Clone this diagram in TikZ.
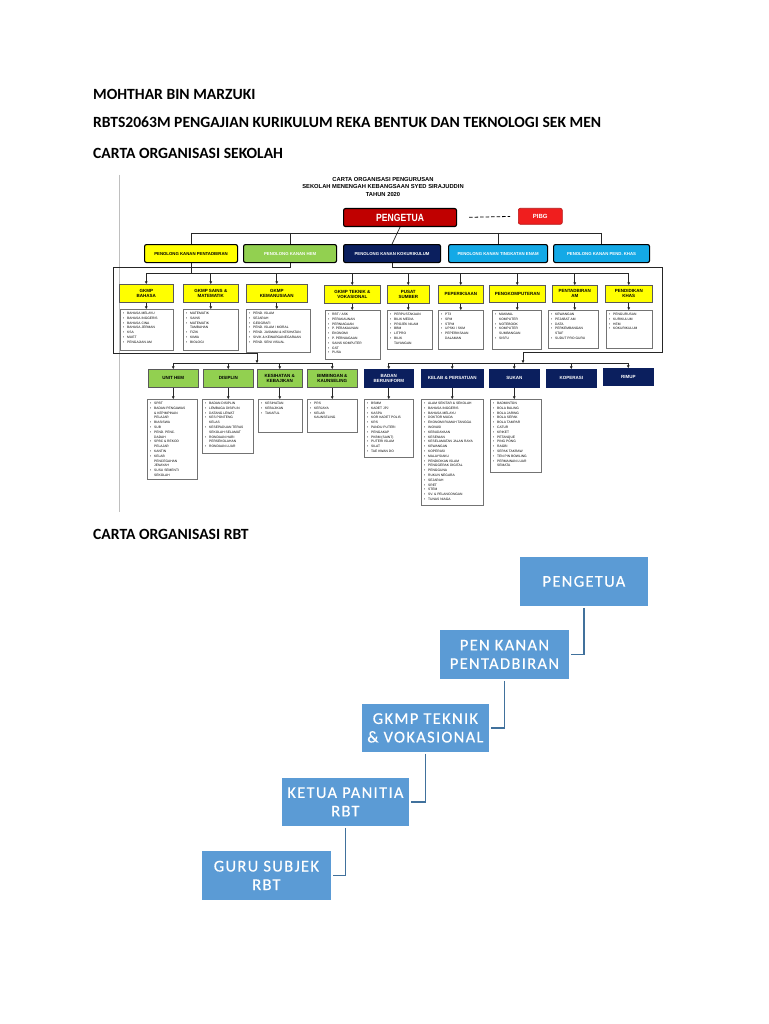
\documentclass[tikz,border=0pt]{standalone}
\usepackage{fontspec}
\setmainfont{Liberation Sans}
\newfontfamily\calf{Carlito}
\newfontfamily\calsp{Carlito}[LetterSpace=8,FakeBold=0.4]
\usetikzlibrary{arrows.meta}
\definecolor{yel}{HTML}{FFFF00}
\definecolor{grn}{HTML}{92D050}
\definecolor{nav}{HTML}{0B1F5E}
\definecolor{lbl}{HTML}{14A9E6}
\definecolor{dred}{HTML}{C00000}
\definecolor{bred}{HTML}{F01E1E}
\definecolor{sab}{HTML}{5B9BD5}
\definecolor{sal}{HTML}{41719C}
\newcommand\mkbox[7]{%
  \pgfmathsetmacro\mbw{#4-#2}\pgfmathsetmacro\mbh{#5-#3}%
  \node[#6,minimum width=\mbw pt,minimum height=\mbh pt,inner sep=0pt,anchor=north west] (#1) at (#2,#3) {#7};}
\newcommand\mklist[6]{%
  \mkbox{#1}{#2}{#3}{#4}{#5}{lbox}{}%
  \node[ltxt,anchor=north west] (#1t) at ([xshift=3pt,yshift=-3pt]#1.north west) {#6};}
\newcommand\bu{\makebox[4pt][l]{\textbullet}}
\newcommand\ind{\hspace*{4pt}}
\tikzset{
  pkbox/.style={draw=black,line width=1.1pt,rounded corners=2pt,font=\bfseries\fontsize{4.3}{5}\selectfont},
  hdr/.style={draw=black!65,line width=0.5pt,font=\bfseries\fontsize{4.5}{5.4}\selectfont,align=center},
  yhdr/.style={hdr,fill=yel},
  ghdr/.style={hdr,fill=grn},
  nhdr/.style={hdr,fill=nav,draw=nav,text=white},
  lbox/.style={draw=black!55,line width=0.6pt,fill=white},
  ltxt/.style={font=\fontsize{3.3}{4.8}\selectfont,align=left,inner sep=0pt},
  ln/.style={line width=0.7pt,draw=black!85},
  arr/.style={ln,-{Triangle[length=2.6pt,width=2.6pt]}},
  sa/.style={fill=sab,draw=white,line width=0.8pt,text=white,align=center,font=\calsp\fontsize{16.5}{18.5}\selectfont},
  saln/.style={draw=sal,line width=1.7pt},
  head/.style={font=\calf\bfseries\fontsize{15.6}{17}\selectfont,anchor=base west,inner sep=0pt},
  border/.style={draw=black!25,line width=0.5pt},
}
\begin{document}
\begin{tikzpicture}[x=1pt,y=-1pt]
\fill[white] (0,0) rectangle (768,1024);
\useasboundingbox (0,0) rectangle (768,1024);

% headings
\node[head] (t1) at (93,100) {MOHTHAR BIN MARZUKI};
\node[head] (t2) at (93,128) {RBTS2063M PENGAJIAN KURIKULUM REKA BENTUK DAN TEKNOLOGI SEK MEN};
\node[head] (t3) at (93,159) {CARTA ORGANISASI SEKOLAH};
\node[head] (t4) at (93,539) {CARTA ORGANISASI RBT};

% left border of the embedded chart
\coordinate (bdT) at (119,175);
\coordinate (bdB) at (119,512);
\draw[border] (bdT) -- (bdB);

% org chart title
\node[font=\bfseries\fontsize{5.8}{7.5}\selectfont,align=center,inner sep=0pt] (ttl) at (383,187)
  {CARTA ORGANISASI PENGURUSAN\\SEKOLAH MENENGAH KEBANGSAAN SYED SIRAJUDDIN\\TAHUN 2020};

% top
\mkbox{pg}{343}{208}{456}{226}{pkbox,fill=dred,text=white,font=\bfseries\fontsize{10.5}{11}\selectfont}{\scalebox{0.82}[1]{PENGETUA}}
\mkbox{pibg}{518}{208}{562}{224}{pkbox,fill=bred,draw=bred!75!black,line width=0.6pt,text=white,font=\bfseries\fontsize{6}{7}\selectfont}{PIBG}
\draw[line width=0.8pt,dash pattern=on 3.5pt off 2pt,shorten <=12pt,shorten >=8pt] (pg.east) -- (pibg.west);

% row 2
\mkbox{pk1}{144}{244}{237}{262}{pkbox,fill=yel}{PENOLONG KANAN PENTADBIRAN}
\mkbox{pk2}{243}{244}{336}{262}{pkbox,fill=grn,text=white}{PENOLONG KANAN HEM}
\mkbox{pk3}{343}{244}{440}{262}{pkbox,fill=nav,text=white}{PENOLONG KANAN KOKURIKULUM}
\mkbox{pk4}{448}{244}{547}{262}{pkbox,fill=lbl,text=white}{PENOLONG KANAN TINGKATAN ENAM}
\mkbox{pk5}{553}{244}{649}{262}{pkbox,fill=lbl,text=white}{PENOLONG KANAN PEND. KHAS}
\coordinate (b2) at (0,233);
\draw[ln] (pg.south) -- (pk3.north);
\draw[ln] (pk1.north |- b2) -- (pk5.north |- b2);
\foreach \p in {pk1,pk2,pk4,pk5} {\draw[ln] (\p.north |- b2) -- (\p.north);}

% row 3 headers
\mkbox{h1}{119}{284}{173}{302}{yhdr}{GKMP\\BAHASA}
\mkbox{h2}{183}{284}{238}{302}{yhdr}{GKMP SAINS \&\\MATEMATIK}
\mkbox{h3}{246}{284}{307}{302}{yhdr}{GKMP\\KEMANUSIAAN}
\mkbox{h4}{324}{285}{380}{303}{yhdr}{GKMP TEKNIK \&\\VOKASIONAL}
\mkbox{h5}{387}{285}{429}{303}{yhdr}{PUSAT\\SUMBER}
\mkbox{h6}{438}{285}{483}{303}{yhdr}{PEPERIKSAAN}
\mkbox{h7}{489}{285}{545}{302}{yhdr}{PENGKOMPUTERAN}
\mkbox{h8}{552}{285}{597}{302}{yhdr}{PENTADBIRAN\\AM}
\mkbox{h9}{605}{285}{652}{302}{yhdr}{PENDIDIKAN\\KHAS}
\coordinate (b3) at (0,273);
\draw[ln] (pk1.south) -- (pk1.south |- b3);
\draw[ln] (h1.north |- b3) -- (h9.north |- b3);
\foreach \h in {h1,h2,h3,h4,h5,h6,h7,h8,h9} {\draw[arr] (\h.north |- b3) -- (\h.north);}

% row 3 lists
\mklist{l1}{120}{309}{173}{350}{\bu BAHASA MELAYU\\\bu BAHASA INGGERIS\\\bu BAHASA CINA\\\bu BAHASA JERMAN\\\bu KSA\\\bu MUET\\\bu PENGAJIAN AM}
\mklist{l2}{183}{309}{238}{350}{\bu MATEMATIK\\\bu SAINS\\\bu MATEMATIK\\\ind TAMBAHAN\\\bu FIZIK\\\bu KIMIA\\\bu BIOLOGI}
\mklist{l3}{246}{309}{310}{352}{\bu PEND. ISLAM\\\bu SEJARAH\\\bu GEOGRAFI\\\bu PEND. ISLAM / MORAL\\\bu PEND. JASMANI \& KESIHATAN\\\bu SIVIK \& KEWARGANEGARAAN\\\bu PEND. SENI VISUAL}
\mklist{l4}{325}{310}{380}{359}{\bu RBT / ASK\\\bu PERAKAUNAN\\\bu PERNIAGAAN\\\bu P. PERAKAUNAN\\\bu EKONOMI\\\bu P. PERNIAGAAN\\\bu SAINS KOMPUTER\\\bu GST\\\bu PUSA}
\mklist{l5}{387}{310}{432}{349}{\bu PERPUSTAKAAN\\\bu BILIK MEDIA\\\bu PROJEK NILAM\\\bu BBM\\\bu LITPRO\\\bu BILIK\\\ind TAYANGAN}
\mklist{l6}{438}{310}{483}{349}{\bu PT3\\\bu SPM\\\bu STPM\\\bu UPSKI / SKM\\\bu PEPERIKSAAN\\\ind DALAMAN}
\mklist{l7}{492}{310}{541}{349}{\bu MAKMAL\\\ind KOMPUTER\\\bu NOTEBOOK\\\bu KOMPUTER\\\ind SUMBANGAN\\\bu SISFU}
\mklist{l8}{548}{310}{598}{348}{\bu KEWANGAN\\\bu PEJABAT AM\\\bu DATA\\\bu PERKEMBANGAN\\\ind STAF\\\bu SUDUT PRO GURU}
\mklist{l9}{606}{310}{652}{348}{\bu PENGURUSAN\\\bu KURIKULUM\\\bu HEM\\\bu KOKURIKULUM}
\foreach \i in {1,...,9} {\draw[arr] (h\i.south) -- (h\i.south |- l\i.north);}

% routes from HEM and KOKURIKULUM
\coordinate (hemT) at (113,267);
\coordinate (hemL) at (113,353);
\coordinate (hemJ) at (257,363);
\coordinate (kokT) at (662,267);
\coordinate (kokR) at (662,352);
\coordinate (kokJ) at (523,363);
\draw[arr] (pk2.south) |- (hemT) -- (hemL) -| (hemJ);
\draw[arr] (pk3.south) |- (kokT) -- (kokR) -| (kokJ);

% row 4 headers
\mkbox{g1}{148}{369}{198}{387}{ghdr}{UNIT HEM}
\mkbox{g2}{203}{369}{253}{387}{ghdr}{DISIPLIN}
\mkbox{g3}{257}{369}{302}{387}{ghdr}{KESIHATAN \&\\KEBAJIKAN}
\mkbox{g4}{307}{369}{357}{387}{ghdr}{BIMBINGAN \&\\KAUNSELING}
\mkbox{n1}{364}{369}{413}{387}{nhdr}{BADAN\\BERUNIFORM}
\mkbox{n2}{421}{369}{483}{387}{nhdr}{KELAB \& PERSATUAN}
\mkbox{n3}{489}{369}{539}{387}{nhdr}{SUKAN}
\mkbox{n4}{546}{369}{596}{387}{nhdr}{KOPERASI}
\mkbox{n5}{603}{368}{653}{385}{nhdr}{RIMUP}
\coordinate (b4) at (0,363);
\draw[ln] (g1.north |- b4) -- (g4.north |- b4);
\draw[ln] (n1.north |- b4) -- (n5.north |- b4);
\foreach \h in {g1,g2,g3,g4,n1,n2,n3,n4,n5} {\draw[arr] (\h.north |- b4) -- (\h.north);}

% row 4 lists
\mklist{gl1}{147}{399}{197}{479}{\bu SPBT\\\bu BADAN PENGAWAS\\\ind \& KEPIMPINAN\\\ind PELAJAR\\\bu BIASISWA\\\bu SUB\\\bu PEND. PENC.\\\ind DADAH\\\bu SPBC \& REKOD\\\ind PELAJAR\\\bu KANTIN\\\bu KELAB\\\ind PENCEGAHAN\\\ind JENAYAH\\\bu SUSU SEMENTI\\\ind SEKOLAH}
\mklist{gl2}{202}{399}{253}{453}{\bu BADAN DISIPLIN\\\bu LEMBAGA DISIPLIN\\\bu DATANG LEWAT\\\bu KES PONTENG\\\ind KELAS\\\bu KESEPADUAN TERAS\\\ind SEKOLAH SELAMAT\\\bu RONDAAN HARI\\\ind PERSEKOLAHAN\\\bu RONDAAN LUAR}
\mklist{gl3}{258}{399}{302}{432}{\bu KESIHATAN\\\bu KEBAJIKAN\\\bu TAKAFUL}
\mklist{gl4}{307}{399}{357}{432}{\bu PRS\\\bu KERJAYA\\\bu KELAB\\\ind KAUNSELING}
\mklist{nl1}{364}{399}{413}{457}{\bu BSMM\\\bu KADET JPJ\\\bu KASPA\\\bu KOR KADET POLIS\\\bu KRS\\\bu PANDU PUTERI\\\bu PENGAKAP\\\bu PKBM (SAINT)\\\bu PUTERI ISLAM\\\bu SILAT\\\bu TAE KWAN DO}
\mklist{nl2}{421}{399}{483}{505}{\bu ALAM SEKITAR \& SEKOLAH\\\bu BAHASA INGGERIS\\\bu BAHASA MELAYU\\\bu DOKTOR MUDA\\\bu EKONOMI RUMAH TANGGA\\\bu INOVASI\\\bu KEBUDAYAAN\\\bu KESENIAN\\\bu KESELAMATAN JALAN RAYA\\\bu KEWANGAN\\\bu KOPERASI\\\bu MALAYSIAKU\\\bu PENDIDIKAN ISLAM\\\bu PENGGERAK DIGITAL\\\bu PENGGUNA\\\bu RUKUN NEGARA\\\bu SEJARAH\\\bu SRET\\\bu STEM\\\bu SV. \& PELANCONGAN\\\bu TUNAS NIAGA}
\mklist{nl3}{490}{399}{541}{472}{\bu BADMINTON\\\bu BOLA BALING\\\bu BOLA JARING\\\bu BOLA SEPAK\\\bu BOLA TAMPAR\\\bu CATUR\\\bu KRIKET\\\bu PETANQUE\\\bu PING PONG\\\bu RAGBI\\\bu SEPAK TAKRAW\\\bu TEN PIN BOWLING\\\bu PERMAINAN LUAR\\\ind SEMATA}
\foreach \h/\l in {g1/gl1,g2/gl2,g3/gl3,g4/gl4,n1/nl1,n2/nl2,n3/nl3} {\draw[arr] (\h.south) -- (\h.south |- \l.north);}

% RBT chart
\mkbox{s1}{519}{556}{648}{606}{sa}{PENGETUA}
\mkbox{s2}{439}{629}{569}{679}{sa}{PEN KANAN\\PENTADBIRAN}
\mkbox{s3}{361}{703}{489}{752}{sa}{GKMP TEKNIK\\\& VOKASIONAL}
\mkbox{s4}{281}{777}{409}{826}{sa}{KETUA PANITIA\\RBT}
\mkbox{s5}{201}{850}{331}{900}{sa}{GURU SUBJEK\\RBT}
\draw[saln] ([yshift=-1pt]s1.south) |- ([xshift=1pt]s2.east);
\draw[saln] ([yshift=-1pt]s2.south) |- ([xshift=1pt]s3.east);
\draw[saln] ([yshift=-1pt]s3.south) |- ([xshift=1pt]s4.east);
\draw[saln] ([yshift=-1pt]s4.south) |- ([xshift=1pt]s5.east);
\end{tikzpicture}
\end{document}
